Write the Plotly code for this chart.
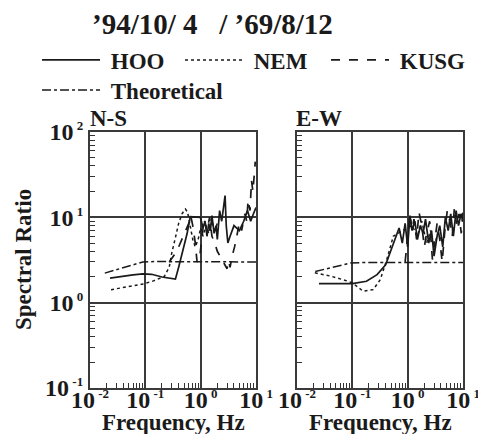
import plotly.graph_objects as go

W, H = 478, 434
FONT = "Liberation Serif, Times New Roman, serif"
INK = "#1a1a1a"

# ---------------- data ----------------
# N-S component
ns_hoo_f = [0.023, 0.04, 0.06, 0.09, 0.13, 0.2, 0.28, 0.35, 0.40, 0.47, 0.57, 0.65, 0.8, 0.99,
            1.1, 1.2, 1.3, 1.4, 1.5, 1.6, 1.75, 1.9, 2.0, 2.2, 2.4, 2.6, 2.76, 2.9, 3.1,
            3.4, 4.0, 5.0, 6.0, 7.0, 8.0, 9.0, 10.0]
ns_hoo_r = [1.94, 2.05, 2.12, 2.17, 2.15, 2.0, 1.95, 1.89, 2.6, 4.0, 6.5, 10.2, 10.1, 10.0,
            7.5, 9.0, 6.0, 8.5, 7.0, 10.5, 6.5, 8.0, 5.5, 12.0, 9.0, 14.0, 18.0, 8.0, 5.0,
            6.0, 8.0, 7.0, 9.0, 12.0, 9.0, 11.0, 13.0]

ns_nem_f = [0.024, 0.04, 0.06, 0.09, 0.14, 0.22, 0.27, 0.30, 0.35, 0.40, 0.46, 0.53, 0.58, 0.65,
            0.72, 0.8, 0.9, 1.0, 1.1, 1.25, 1.4, 1.6, 1.8, 2.0]
ns_nem_r = [1.42, 1.5, 1.57, 1.65, 1.8, 2.03, 2.6, 3.8, 5.8, 8.5, 11.0, 12.5, 11.5, 8.0,
            5.5, 4.5, 5.5, 7.5, 6.0, 8.0, 6.5, 9.0, 7.0, 8.5]

ns_kusg_f = [0.27, 0.33, 0.40, 0.46, 0.53, 0.61, 0.66, 0.72, 0.8, 0.86, 0.95, 1.05, 1.15, 1.3,
             1.45, 1.6, 1.8, 2.0, 2.2, 2.4, 2.6, 2.8, 3.0, 3.2, 3.4, 3.7, 4.1, 4.6, 5.0, 5.5,
             6.0, 6.3, 6.8, 7.2, 7.8, 8.3, 8.8, 9.3, 9.7]
ns_kusg_r = [3.0, 3.6, 4.5, 5.5, 7.0, 8.5, 10.5, 8.0, 5.0, 3.0, 3.2, 5.5, 9.5, 7.0,
             10.0, 6.0, 5.0, 4.0, 3.6, 3.3, 3.0, 2.7, 2.5, 3.1, 2.6, 3.5, 4.5, 6.5, 8.6, 7.0,
             10.0, 11.0, 9.0, 16.0, 12.0, 27.0, 20.0, 39.0, 45.0]

ns_theo_f = [0.0185, 0.03, 0.05, 0.07, 0.09, 0.15, 0.3, 1.0, 3.0, 10.0]
ns_theo_r = [2.22, 2.45, 2.7, 2.9, 3.0, 3.03, 3.03, 3.0, 3.0, 3.0]

# E-W component
ew_hoo_f = [0.025, 0.05, 0.1, 0.18, 0.28, 0.40, 0.56, 0.64, 0.7, 0.8, 0.9, 1.0, 1.1, 1.2, 1.35,
            1.5, 1.7, 1.9, 2.1, 2.4, 2.7, 3.0, 3.4, 3.8, 4.3, 4.8, 5.4, 6.0, 6.7, 7.5, 8.3,
            9.2, 10.0]
ew_hoo_r = [1.67, 1.67, 1.67, 1.78, 2.13, 2.78, 5.0, 6.5, 7.5, 5.0, 8.5, 4.5, 10.5, 7.0, 9.0,
            5.5, 8.0, 6.5, 9.5, 5.0, 7.0, 3.5, 6.0, 8.0, 4.5, 10.0, 7.0, 11.0, 6.0, 12.0, 8.0,
            11.0, 9.0]

ew_nem_f = [0.021, 0.04, 0.07, 0.1, 0.157, 0.237, 0.32, 0.42, 0.55, 0.73, 0.96, 1.2, 1.5, 1.8,
            2.2, 2.6, 3.0, 3.5, 4.0]
ew_nem_r = [2.24, 2.05, 1.85, 1.71, 1.36, 1.42, 1.86, 3.2, 6.0, 6.8, 7.5, 8.0, 6.0, 9.0,
            5.0, 7.0, 4.5, 6.5, 5.5]

ew_kusg_f = [0.9, 1.0, 1.1, 1.2, 1.3, 1.45, 1.6, 1.8, 2.0, 2.2, 2.5, 2.8, 3.1, 3.4, 3.8, 4.2,
             4.7, 5.2, 5.8, 6.4, 7.0, 7.7, 8.5, 9.3, 10.0]
ew_kusg_r = [3.0, 6.0, 11.0, 7.0, 9.5, 5.5, 11.5, 8.0, 4.5, 6.5, 9.0, 3.2, 5.0, 8.5, 5.5, 3.0,
             7.0, 12.0, 9.0, 6.0, 13.0, 8.0, 11.0, 6.5, 12.0]

ew_theo_f = [0.0214, 0.04, 0.06, 0.092, 0.15, 0.3, 1.0, 3.0, 10.0]
ew_theo_r = [2.32, 2.55, 2.75, 2.91, 2.95, 2.95, 2.95, 2.95, 2.95]

decades = [0.01, 0.1, 1, 10]
x_exponents = ["-2", "-1", "0", "1"]
y_decades = [0.1, 1, 10, 100]
y_exponents = ["-1", "0", "1", "2"]

NB = "\u00a0"
title_text = "’94/10/" + NB + "4" + NB + NB + NB + "/" + NB + "’69/8/12"

# ---------------- figure ----------------
def power_label(e):
    return "10<sup><span style='font-size:13px'>" + NB + e + "</span></sup>"

x_tick_text = [power_label(e) for e in x_exponents]
y_tick_text = [power_label(e) for e in y_exponents]

fig = go.Figure()

styles = {
    "HOO": dict(dash="solid", width=1.7),
    "NEM": dict(dash="dot", width=1.5),
    "KUSG": dict(dash="dash", width=1.7),
    "Theoretical": dict(dash="dashdot", width=1.5),
}

def add(name, f, r, xa, ya, show, legend):
    st = styles[name]
    fig.add_trace(go.Scatter(
        x=f, y=r, mode="lines", name=NB + name, xaxis=xa, yaxis=ya,
        line=dict(color=INK, width=st["width"], dash=st["dash"]),
        showlegend=show, legend=legend, hoverinfo="skip"))

add("Theoretical", ns_theo_f, ns_theo_r, "x", "y", True, "legend4")
add("NEM", ns_nem_f, ns_nem_r, "x", "y", True, "legend2")
add("KUSG", ns_kusg_f, ns_kusg_r, "x", "y", True, "legend3")
add("HOO", ns_hoo_f, ns_hoo_r, "x", "y", True, "legend")

add("Theoretical", ew_theo_f, ew_theo_r, "x2", "y2", False, "legend4")
add("HOO", ew_hoo_f, ew_hoo_r, "x2", "y2", False, "legend")
add("NEM", ew_nem_f, ew_nem_r, "x2", "y2", False, "legend2")
add("KUSG", ew_kusg_f, ew_kusg_r, "x2", "y2", False, "legend3")

minor_x = [m * d for d in decades[:-1] for m in range(2, 10)]
minor_y = [m * d for d in y_decades[:-1] for m in range(2, 10)]

GRID = "#3a3a3a"
tick_font = dict(family=FONT, size=24, color=INK, weight="bold")
minor_style = dict(ticks="inside", ticklen=5, tickwidth=1.2, tickcolor="#333", showgrid=False)

def xaxis(domain, anchor):
    return dict(
        type="log", domain=domain, anchor=anchor, range=[-2, 1], automargin=False,
        tickvals=decades, ticktext=x_tick_text,
        ticks="inside", ticklen=5, tickwidth=1.5, tickcolor=GRID, tickfont=tick_font,
        ticklabelstandoff=-11, ticklabeloverflow="allow",
        showgrid=True, gridcolor=GRID, gridwidth=1.5,
        showline=True, linecolor=GRID, linewidth=2, mirror=True, zeroline=False,
        minor=dict(tickvals=minor_x, **minor_style),
    )

def yaxis(domain, anchor, labels):
    return dict(
        type="log", domain=domain, anchor=anchor, range=[-1, 2], automargin=False,
        tickvals=y_decades, ticktext=y_tick_text,
        ticks="inside", ticklen=5, tickwidth=1.5, tickcolor=GRID,
        showticklabels=labels, tickfont=tick_font, ticklabeloverflow="allow",
        showgrid=True, gridcolor=GRID, gridwidth=1.5,
        showline=True, linecolor=GRID, linewidth=2, mirror=True, zeroline=False,
        minor=dict(tickvals=minor_y, **minor_style),
    )

leg_font = dict(family=FONT, size=23, color=INK, weight="bold")

def legend_at(x_px, y_px):
    return dict(orientation="h", x=x_px / W, y=1 - y_px / H, xanchor="left", yanchor="middle",
                font=leg_font, itemwidth=58, bgcolor="rgba(0,0,0,0)", borderwidth=0)

ydom = [1 - 388 / H, 1 - 132 / H]
fig.update_layout(
    width=W, height=H,
    margin=dict(l=0, r=0, t=0, b=0, autoexpand=False),
    paper_bgcolor="white", plot_bgcolor="white",
    font=dict(family=FONT, color=INK),
    xaxis=xaxis([90 / W, 256 / W], "y"),
    yaxis=yaxis(ydom, "x", True),
    xaxis2=xaxis([297 / W, 463 / W], "y2"),
    yaxis2=yaxis(ydom, "x2", False),
    legend=legend_at(37, 60),
    legend2=legend_at(180, 60),
    legend3=legend_at(326, 60),
    legend4=legend_at(37, 90),
)

ann_font = dict(family=FONT, size=23, color=INK, weight="bold")
fig.add_annotation(x=212 / W, y=1 - 24 / H, xref="paper", yref="paper", text=title_text,
                   showarrow=False, xanchor="center", yanchor="middle",
                   font=dict(family=FONT, size=29, color=INK, weight="bold"))
fig.add_annotation(x=88 / W, y=1 - 118 / H, xref="paper", yref="paper", text="N-S",
                   showarrow=False, xanchor="left", yanchor="middle", font=ann_font)
fig.add_annotation(x=294 / W, y=1 - 118 / H, xref="paper", yref="paper", text="E-W",
                   showarrow=False, xanchor="left", yanchor="middle", font=ann_font)
fig.add_annotation(x=23 / W, y=1 - 260 / H, xref="paper", yref="paper", text="Spectral Ratio",
                   showarrow=False, textangle=-90, xanchor="center", yanchor="middle",
                   font=ann_font)
fig.add_annotation(x=173 / W, y=1 - 422 / H, xref="paper", yref="paper", text="Frequency, Hz",
                   showarrow=False, xanchor="center", yanchor="middle", font=ann_font)
fig.add_annotation(x=380 / W, y=1 - 422 / H, xref="paper", yref="paper", text="Frequency, Hz",
                   showarrow=False, xanchor="center", yanchor="middle", font=ann_font)

fig.write_html("out.html")
